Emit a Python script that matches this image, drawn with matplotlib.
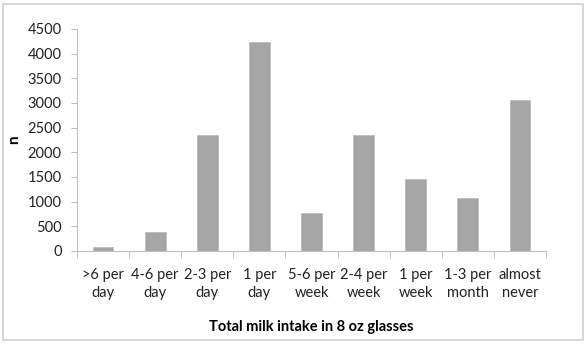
import matplotlib
matplotlib.use("Agg")
import matplotlib.pyplot as plt
from matplotlib.patches import Rectangle

categories = [">6 per\nday", "4-6 per\nday", "2-3 per\nday", "1 per\nday", "5-6 per\nweek",
              "2-4 per\nweek", "1 per\nweek", "1-3 per\nmonth", "almost\nnever"]
values = [80, 385, 2345, 4230, 765, 2358, 1453, 1075, 3067]
yticks = [0, 500, 1000, 1500, 2000, 2500, 3000, 3500, 4000, 4500]

plt.rcParams['font.family'] = ['Lato', 'DejaVu Sans']

fig = plt.figure(figsize=(5.86, 3.44), dpi=100)
fig.patches.append(Rectangle((3/586, 4/344), 580/586, 336/344, transform=fig.transFigure,
                             fill=False, edgecolor='#d0d0d0', linewidth=1.2))
ax = fig.add_axes([77/586, 1 - 251/344, (546-77)/586, (251-29)/344])
x = list(range(len(values)))
ax.bar(x, values, width=0.4, color='#a6a6a6', edgecolor='#b8b8b8', linewidth=0.5)
ax.set_xlim(-0.5, len(values) - 0.5)
ax.set_ylim(0, 4500)
ax.set_yticks(yticks)
ax.set_yticklabels([str(t) for t in yticks], fontsize=10.5, color='#222222')
ax.set_xticks(x)
ax.set_xticklabels(categories, fontsize=10.5, color='#222222', linespacing=1.4)
ax.tick_params(axis='x', length=0, pad=12)
ax.set_xticks([i - 0.5 for i in range(len(values) + 1)], minor=True)
ax.tick_params(axis='x', which='minor', length=5, color='#bfbfbf', direction='out')
ax.tick_params(axis='y', length=4, color='#bfbfbf', direction='out', pad=7)
for s in ['top', 'right']:
    ax.spines[s].set_visible(False)
for s in ['left', 'bottom']:
    ax.spines[s].set_color('#bfbfbf')
ax.set_ylabel('n', fontsize=11, fontweight='bold', labelpad=5)
ax.set_xlabel('Total milk intake in 8 oz glasses', fontsize=10.5, fontweight='bold', labelpad=14)
fig.savefig('out.png', dpi=100)
